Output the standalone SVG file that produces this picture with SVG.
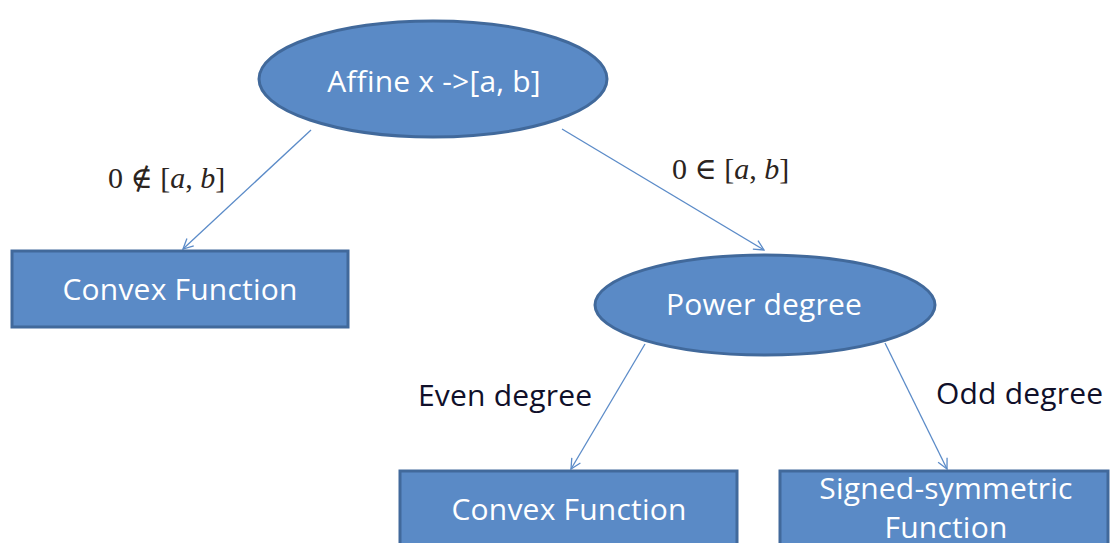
<svg xmlns="http://www.w3.org/2000/svg" width="1114" height="543" viewBox="0 0 1114 543">
<defs>
<style>
.node{fill:#5A8AC6;stroke:#41699B;stroke-width:3}
.nt{font-family:"Open Sans","Noto Sans",sans-serif;font-size:30px;letter-spacing:0.2px;fill:#ffffff;text-anchor:middle}
.lbl{font-family:"Open Sans","Noto Sans",sans-serif;font-size:30px;letter-spacing:0.2px;fill:#10102a}
.math{font-family:"Liberation Serif","DejaVu Serif",serif;font-size:30px;fill:#2b2420}
.edge{stroke:#5B8BC8;stroke-width:1.3;fill:none;marker-end:url(#ah)}
</style>
<marker id="ah" viewBox="0 0 12 12" refX="11" refY="6" markerWidth="12" markerHeight="12" markerUnits="userSpaceOnUse" orient="auto">
<path d="M1,1 L11,6 L1,11" fill="none" stroke="#5B8BC8" stroke-width="1.3"/>
</marker>
</defs>
<rect width="1114" height="543" fill="#ffffff"/>
<g id="connectors">
<line class="edge" x1="311" y1="130" x2="183" y2="249"/>
<line class="edge" x1="562" y1="129" x2="764" y2="250"/>
<line class="edge" x1="645" y1="344" x2="571" y2="469"/>
<line class="edge" x1="885" y1="343" x2="947" y2="469"/>
</g>
<g id="labels">
<text class="math" x="108" y="188">0 ∉ [<tspan font-style="italic">a</tspan>, <tspan font-style="italic">b</tspan>]</text>
<text class="math" x="672" y="179">0 ∈ [<tspan font-style="italic">a</tspan>, <tspan font-style="italic">b</tspan>]</text>
<text class="lbl" x="418" y="406">Even degree</text>
<text class="lbl" x="936" y="404">Odd degree</text>
</g>
<g id="affine">
<ellipse class="node" cx="433" cy="79" rx="174" ry="58"/>
<text class="nt" x="434" y="92">Affine x -&gt;[a, b]</text>
</g>
<g id="convex1">
<rect class="node" x="12" y="251" width="336" height="76"/>
<text class="nt" x="180" y="300">Convex Function</text>
</g>
<g id="power">
<ellipse class="node" cx="765" cy="305" rx="170" ry="50"/>
<text class="nt" x="764" y="315">Power degree</text>
</g>
<g id="convex2">
<rect class="node" x="400" y="471" width="337" height="80"/>
<text class="nt" x="569" y="520">Convex Function</text>
</g>
<g id="signed">
<rect class="node" x="780" y="471" width="328" height="80"/>
<text class="nt" x="946" y="499">Signed-symmetric</text>
<text class="nt" x="946" y="538">Function</text>
</g>
</svg>
